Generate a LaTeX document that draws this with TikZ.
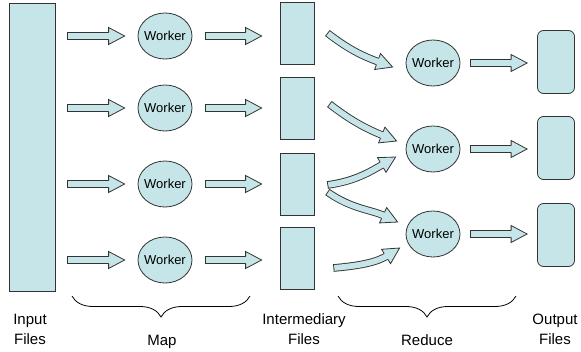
\documentclass[tikz,border=0pt]{standalone}
\usepackage{fontspec}
\setmainfont{Liberation Sans}
\usepackage{tikz}
\usetikzlibrary{shapes,arrows,positioning,calc,decorations.pathreplacing,decorations.markings}
\definecolor{boxfill}{RGB}{197,229,232}

\begin{document}
\begin{tikzpicture}[x=1pt, y=1pt,
                   file/.style={draw=black!80, fill=boxfill, line width=0.8pt, inner sep=0pt,
                                minimum width=34pt, minimum height=62pt},
                   worker/.style={ellipse, draw=black!80, fill=boxfill, line width=0.8pt,
                                  inner xsep=-5pt, inner ysep=0pt,
                                  minimum width=54pt, minimum height=46pt,
                                  font=\fontsize{13}{15}\selectfont},
                   blockarrow/.style={draw=boxfill, line width=5.8pt,
                                      shorten >=14pt, shorten <=0.9pt,
                                      preaction={draw=black!80, line width=7.6pt, shorten <=0pt, shorten >=14pt},
                                      postaction={decorate, decoration={markings,
                                        mark=at position 1 with {\filldraw[draw=black!80, fill=boxfill, line width=0.8pt,
                                          shorten <=0pt, shorten >=0pt, line join=miter]
                                          (-16pt,3.4pt) -- (-16pt,8.5pt) -- (0pt,0pt) -- (-16pt,-8.5pt) -- (-16pt,-3.4pt);}}}},
                   caption/.style={font=\fontsize{15}{20}\selectfont, align=center, anchor=base}]
  \useasboundingbox (0,0) rectangle (581,-351);

  % files and workers
  \node[file, minimum width=46pt, minimum height=288pt] (inp) at (32,-147) {};
  \foreach \n/\y in {1/36, 2/108, 3/184, 4/260} {
    \node[worker] (w\n) at (165,-\y) {Worker};
  }
  \foreach \n/\y in {1/33, 2/108, 3/184, 4/258} {
    \node[file] (i\n) at (297,-\y) {};
  }
  \foreach \n/\y in {1/63, 2/149, 3/234} {
    \node[worker] (r\n) at (433,-\y) {Worker};
  }
  \foreach \n/\y in {1/62, 2/148, 3/235} {
    \node[file, rounded corners=6pt, minimum width=37pt, minimum height=63pt] (o\n) at (556,-\y) {};
  }

  % map arrows
  \foreach \n in {1,...,4} {
    \draw[blockarrow] ($(inp.east |- w\n)+(12,0)$) -- ($(w\n.west)+(-13,0)$);
    \draw[blockarrow] ($(w\n.east)+(13,0)$) -- ($(i\n.west |- w\n)+(-18,0)$);
  }

  % shuffle arrows
  \draw[blockarrow] ($(i1.east)+(13,0)$) to[out=-38, in=160] ($(r1.west)+(-13,-4)$);
  \draw[blockarrow] ($(i2.east)+(15,4)$) to[out=-38, in=158] ($(r2.west)+(-9,8)$);
  \draw[blockarrow] ($(i3.east)+(13,-1)$) to[out=8, in=-150] ($(r2.west)+(-10,-8)$);
  \draw[blockarrow] ($(i3.east)+(13,-8)$) to[out=-35, in=155] ($(r3.west)+(-8,12)$);
  \draw[blockarrow] ($(i4.east)+(19,-10)$) to[out=5, in=-148] ($(r3.west)+(-6,-14)$);

  % reduce arrows
  \foreach \n in {1,2,3} {
    \draw[blockarrow] ($(r\n.east)+(10,0)$) -- ($(o\n.west |- r\n)+(-10,0)$);
  }

  % braces
  \draw[line width=0.8pt, decorate, decoration={brace, mirror, amplitude=21pt}] (72,-296) -- (250,-296);
  \draw[line width=0.8pt, decorate, decoration={brace, mirror, amplitude=21pt}] (338,-296) -- (516,-296);

  % captions
  \node[caption] (lin) at (30,-344) {Input\\Files};
  \node[caption] (lmap) at (162,-345) {Map};
  \node[caption] (lmid) at (304,-344) {Intermediary\\Files};
  \node[caption] (lred) at (427,-345) {Reduce};
  \node[caption] (lout) at (555,-344) {Output\\Files};
\end{tikzpicture}
\end{document}
